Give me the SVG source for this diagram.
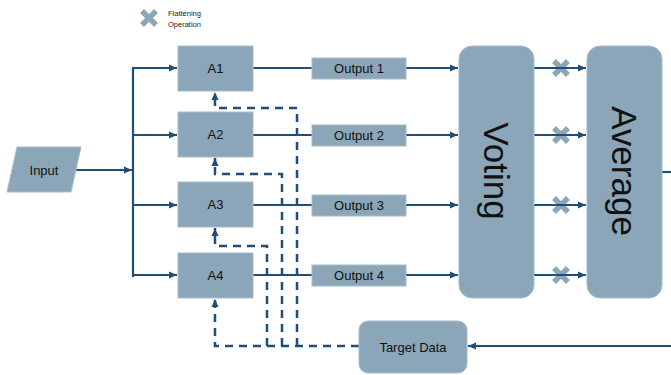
<svg xmlns="http://www.w3.org/2000/svg" width="671" height="375" viewBox="0 0 671 375">
<defs>
<style>
.box{fill:#8BA6B9;stroke:#A8BBCA;stroke-width:1}
.lbl{font-family:"Liberation Sans",Arial,sans-serif;font-size:13px;fill:#111;text-anchor:middle;dominant-baseline:central}
.big{font-family:"Liberation Sans",Arial,sans-serif;font-size:35px;fill:#111;text-anchor:middle}
.ln{fill:none;stroke:#1F4E79;stroke-width:2.2}
.dash{fill:none;stroke:#1F4E79;stroke-width:2.5;stroke-dasharray:8 6}
.x{stroke:#8BA6B9;stroke-width:5.5;fill:none}
</style>
<marker id="ah" markerUnits="userSpaceOnUse" markerWidth="9" markerHeight="8" refX="8" refY="4" orient="auto">
<path d="M0,0.5 L8,4 L0,7.5 z" fill="#1F4E79"/>
</marker>
<g id="xmark"><path class="x" d="M-7,-7 L7,7 M7,-7 L-7,7"/></g>
</defs>
<rect width="671" height="375" fill="#fff"/>

<g id="legend">
<use href="#xmark" x="149" y="18"/>
<text x="168" y="16" font-family="'Liberation Sans',Arial,sans-serif" font-size="7.5" fill="#222">Flattening</text>
<text x="168" y="26.5" font-family="'Liberation Sans',Arial,sans-serif" font-size="7.5" fill="#222">Operation</text>
</g>

<g id="flatten-marks">
<use href="#xmark" x="561" y="68"/>
<use href="#xmark" x="561" y="135"/>
<use href="#xmark" x="561" y="205"/>
<use href="#xmark" x="561" y="275"/>
</g>

<g id="connectors">
<path class="ln" d="M76,170 H132" marker-end="url(#ah)"/>
<path class="ln" d="M133,67 V277" stroke-width="2.5"/>
<path class="ln" d="M133,68 H177" marker-end="url(#ah)"/>
<path class="ln" d="M133,135 H177" marker-end="url(#ah)"/>
<path class="ln" d="M133,205 H177" marker-end="url(#ah)"/>
<path class="ln" d="M133,275 H177" marker-end="url(#ah)"/>
<path class="ln" d="M253,68 H312"/>
<path class="ln" d="M253,135 H312"/>
<path class="ln" d="M253,205 H312"/>
<path class="ln" d="M253,275 H312"/>
<path class="ln" d="M406,68 H458" marker-end="url(#ah)"/>
<path class="ln" d="M406,135 H458" marker-end="url(#ah)"/>
<path class="ln" d="M406,205 H458" marker-end="url(#ah)"/>
<path class="ln" d="M406,275 H458" marker-end="url(#ah)"/>
<path class="ln" d="M534,68 H586" marker-end="url(#ah)"/>
<path class="ln" d="M534,135 H586" marker-end="url(#ah)"/>
<path class="ln" d="M534,205 H586" marker-end="url(#ah)"/>
<path class="ln" d="M534,275 H586" marker-end="url(#ah)"/>
<path class="ln" d="M662,172 H671"/>
<path class="ln" d="M671,346 H468" marker-end="url(#ah)"/>
<path class="dash" d="M359,346 H215 V299" marker-end="url(#ah)"/>
<path class="dash" d="M267,346 V246 H215 V228" marker-end="url(#ah)"/>
<path class="dash" d="M282,346 V174 H215 V158" marker-end="url(#ah)"/>
<path class="dash" d="M297,346 V108 H215 V92" marker-end="url(#ah)"/>
</g>

<g id="input">
<path class="box" d="M17,147 H81 L71,192 H7 Z"/>
<text class="lbl" x="44" y="170" font-size="14">Input</text>
</g>

<g id="A1"><rect class="box" x="178" y="46" width="75" height="45"/><text class="lbl" x="215.5" y="68.5">A1</text></g>
<g id="A2"><rect class="box" x="178" y="112" width="75" height="45"/><text class="lbl" x="215.5" y="134.5">A2</text></g>
<g id="A3"><rect class="box" x="178" y="182" width="75" height="45"/><text class="lbl" x="215.5" y="204.5">A3</text></g>
<g id="A4"><rect class="box" x="178" y="253" width="75" height="45"/><text class="lbl" x="215.5" y="275.5">A4</text></g>

<g id="output1"><rect class="box" x="312" y="58" width="94" height="21"/><text class="lbl" x="359" y="68.5">Output 1</text></g>
<g id="output2"><rect class="box" x="312" y="125" width="94" height="21"/><text class="lbl" x="359" y="135.5">Output 2</text></g>
<g id="output3"><rect class="box" x="312" y="195" width="94" height="21"/><text class="lbl" x="359" y="205.5">Output 3</text></g>
<g id="output4"><rect class="box" x="312" y="265" width="94" height="21"/><text class="lbl" x="359" y="275.5">Output 4</text></g>

<g id="voting">
<rect class="box" x="459" y="46" width="75" height="252" rx="13"/>
<text class="big" transform="translate(496,171) rotate(90)" x="0" y="12">Voting</text>
</g>
<g id="average">
<rect class="box" x="587" y="46" width="75" height="252" rx="13"/>
<text class="big" transform="translate(624,171) rotate(90)" x="0" y="12">Average</text>
</g>

<g id="target">
<rect class="box" x="359" y="321" width="108" height="52" rx="9"/>
<text class="lbl" x="413" y="347">Target Data</text>
</g>
</svg>
